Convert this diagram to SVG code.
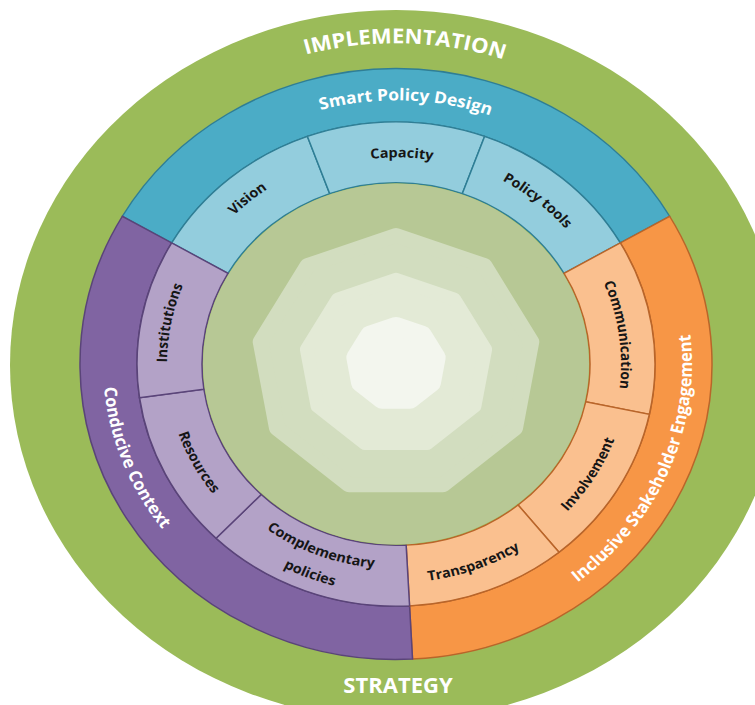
<svg xmlns="http://www.w3.org/2000/svg" width="755" height="705" viewBox="0 0 755 705">
  <style>
    text { font-family: "Open Sans", "Liberation Sans", sans-serif; font-weight: 700; }
    .lbl { font-size: 14.5px; fill: #161616; }
    .band-lbl { font-size: 17.5px; fill: #ffffff; }
    .ring-lbl { font-size: 22px; fill: #ffffff; }
    .band-blue { fill: #4BACC6; stroke: #2F7E95; stroke-width: 1.5; }
    .band-purple { fill: #8064A2; stroke: #5A4479; stroke-width: 1.5; }
    .band-orange { fill: #F79646; stroke: #B9652A; stroke-width: 1.5; }
    .seg-blue { fill: #93CDDD; stroke: #2F7E95; stroke-width: 1.5; }
    .seg-purple { fill: #B3A2C7; stroke: #5A4479; stroke-width: 1.5; }
    .seg-orange { fill: #FAC08F; stroke: #B9652A; stroke-width: 1.5; }
    .layer { stroke-linejoin: round; }
  </style>
  <defs>
    <!-- text baselines, in the local (centred, unsquashed) frame -->
    <path id="p-impl" d="M -292.46 -179.22 A 343 343 0 0 1 301.44 -163.67"/>
    <path id="p-spd" d="M -239.15 -149.44 A 282 282 0 0 1 248.99 -132.39"/>
    <path id="p-cc" d="M -227.71 -184.39 A 293 293 0 0 0 -45.83 289.39"/>
    <path id="p-ise" d="M 36.07 293.79 A 296 296 0 0 0 236.40 -178.14"/>
    <path id="p-vision" d="M -223.55 39.42 A 227 227 0 0 1 77.64 -213.31"/>
    <path id="p-capacity" d="M -188.43 -115.47 A 221 221 0 0 1 194.22 -105.45"/>
    <path id="p-policy" d="M -79.92 -208.19 A 223 223 0 0 1 220.25 34.88"/>
    <path id="p-comm" d="M 84.29 -208.62 A 225 225 0 0 1 138.52 177.30"/>
    <path id="p-inv" d="M -6.10 232.92 A 233 233 0 0 0 204.77 -111.18"/>
    <path id="p-trans" d="M -150.41 179.25 A 234 234 0 0 0 230.45 40.63"/>
    <path id="p-comp1" d="M -216.30 34.26 A 219 219 0 0 0 137.82 170.20"/>
    <path id="p-comp2" d="M -241.98 38.33 A 245 245 0 0 0 154.18 190.40"/>
    <path id="p-res" d="M -195.05 -121.88 A 230 230 0 0 0 -8.03 229.86"/>
    <path id="p-inst" d="M -150.24 172.83 A 229 229 0 0 1 -74.56 -216.52"/>
  </defs>

  <rect width="755" height="705" fill="#ffffff"/>

  <!-- outer green ring -->
  <g id="implementation-strategy">
    <ellipse cx="396" cy="365" rx="386" ry="355" fill="#9BBB59"/>
    <text class="ring-lbl" x="398" y="693" text-anchor="middle">STRATEGY</text>
  </g>

  <g transform="translate(396 364) scale(1 0.935)">
    <text class="ring-lbl" text-anchor="middle"><textPath href="#p-impl" startOffset="50%">IMPLEMENTATION</textPath></text>

    <!-- pillar bands -->
    <g id="smart-policy-design">
      <path class="band-blue" d="M -273.66 -158 A 316 316 0 0 1 273.66 -158 L 224.30 -129.5 A 259 259 0 0 0 -224.30 -129.5 Z"/>
      <text class="band-lbl" text-anchor="middle"><textPath href="#p-spd" startOffset="50%">Smart Policy Design</textPath></text>
    </g>
    <g id="inclusive-stakeholder-engagement">
      <path class="band-orange" d="M 273.66 -158 A 316 316 0 0 1 16.54 315.57 L 13.56 258.64 A 259 259 0 0 0 224.30 -129.5 Z"/>
      <text class="band-lbl" text-anchor="middle"><textPath href="#p-ise" startOffset="50%">Inclusive Stakeholder Engagement</textPath></text>
    </g>
    <g id="conducive-context">
      <path class="band-purple" d="M 16.54 315.57 A 316 316 0 0 1 -273.66 -158 L -224.30 -129.5 A 259 259 0 0 0 13.56 258.64 Z"/>
      <text class="band-lbl" text-anchor="middle"><textPath href="#p-cc" startOffset="50%">Conducive Context</textPath></text>
    </g>

    <!-- element segments -->
    <g id="vision">
      <path class="seg-blue" d="M -224.30 -129.50 A 259 259 0 0 1 -88.58 -243.38 L -66.35 -182.30 A 194 194 0 0 0 -168.01 -97.00 Z"/>
      <text class="lbl" text-anchor="middle"><textPath href="#p-vision" startOffset="50%">Vision</textPath></text>
    </g>
    <g id="capacity">
      <path class="seg-blue" d="M -88.58 -243.38 A 259 259 0 0 1 88.58 -243.38 L 66.35 -182.30 A 194 194 0 0 0 -66.35 -182.30 Z"/>
      <text class="lbl" text-anchor="middle"><textPath href="#p-capacity" startOffset="50%">Capacity</textPath></text>
    </g>
    <g id="policy-tools">
      <path class="seg-blue" d="M 88.58 -243.38 A 259 259 0 0 1 224.30 -129.50 L 168.01 -97.00 A 194 194 0 0 0 66.35 -182.30 Z"/>
      <text class="lbl" text-anchor="middle"><textPath href="#p-policy" startOffset="50%">Policy tools</textPath></text>
    </g>
    <g id="communication">
      <path class="seg-orange" d="M 224.30 -129.50 A 259 259 0 0 1 253.34 53.85 L 189.76 40.33 A 194 194 0 0 0 168.01 -97.00 Z"/>
      <text class="lbl" text-anchor="middle"><textPath href="#p-comm" startOffset="50%">Communication</textPath></text>
    </g>
    <g id="involvement">
      <path class="seg-orange" d="M 253.34 53.85 A 259 259 0 0 1 162.99 201.28 L 122.09 150.77 A 194 194 0 0 0 189.76 40.33 Z"/>
      <text class="lbl" text-anchor="middle"><textPath href="#p-inv" startOffset="50%">Involvement</textPath></text>
    </g>
    <g id="transparency">
      <path class="seg-orange" d="M 162.99 201.28 A 259 259 0 0 1 13.56 258.64 L 10.15 193.73 A 194 194 0 0 0 122.09 150.77 Z"/>
      <text class="lbl" text-anchor="middle"><textPath href="#p-trans" startOffset="50%">Transparency</textPath></text>
    </g>
    <g id="complementary-policies">
      <path class="seg-purple" d="M 13.56 258.64 A 259 259 0 0 1 -179.92 186.31 L -134.76 139.55 A 194 194 0 0 0 10.15 193.73 Z"/>
      <text class="lbl" text-anchor="middle"><textPath href="#p-comp1" startOffset="50%">Complementary</textPath></text>
      <text class="lbl" text-anchor="middle"><textPath href="#p-comp2" startOffset="50%">policies</textPath></text>
    </g>
    <g id="resources">
      <path class="seg-purple" d="M -179.92 186.31 A 259 259 0 0 1 -256.48 36.05 L -192.11 27.00 A 194 194 0 0 0 -134.76 139.55 Z"/>
      <text class="lbl" text-anchor="middle"><textPath href="#p-res" startOffset="50%">Resources</textPath></text>
    </g>
    <g id="institutions">
      <path class="seg-purple" d="M -256.48 36.05 A 259 259 0 0 1 -224.30 -129.50 L -168.01 -97.00 A 194 194 0 0 0 -192.11 27.00 Z"/>
      <text class="lbl" text-anchor="middle"><textPath href="#p-inst" startOffset="50%">Institutions</textPath></text>
    </g>

    <!-- core: disc with nested rounded nonagons -->
    <g id="core">
      <circle r="193" fill="#B7C895"/>
      <polygon class="layer" fill="#D2DDBF" stroke="#D2DDBF" stroke-width="16" points="0,-137.4 88.32,-105.25 135.31,-23.86 118.99,68.7 46.99,129.11 -46.99,129.11 -118.99,68.7 -135.31,-23.86 -88.32,-105.25"/>
      <polygon class="layer" fill="#E3EAD6" stroke="#E3EAD6" stroke-width="14" points="0,-90.5 58.17,-69.33 89.12,-15.72 78.38,45.25 30.95,85.04 -30.95,85.04 -78.38,45.25 -89.12,-15.72 -58.17,-69.33"/>
      <polygon class="layer" fill="#F3F6EE" stroke="#F3F6EE" stroke-width="20" points="0,-40.3 25.90,-30.87 39.69,-7.00 34.90,20.15 13.78,37.87 -13.78,37.87 -34.90,20.15 -39.69,-7.00 -25.90,-30.87"/>
    </g>
  </g>
</svg>
